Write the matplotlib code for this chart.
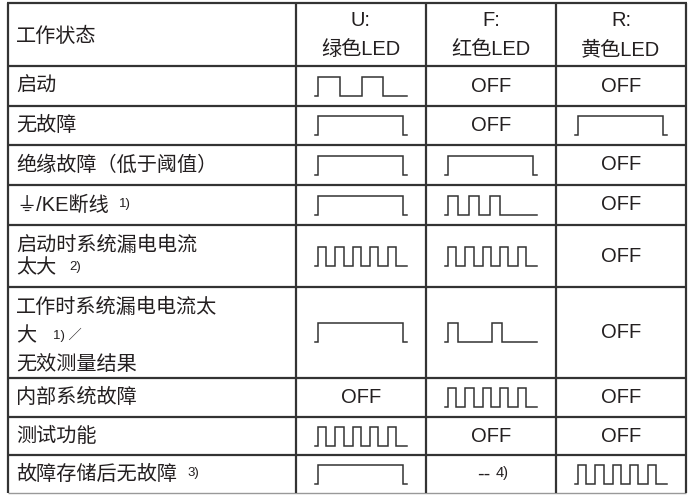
import matplotlib
matplotlib.use("Agg")
import matplotlib.pyplot as plt

plt.rcParams['font.family'] = ['Liberation Sans', 'Noto Sans CJK SC', 'DejaVu Sans']

# ---------------- data ----------------
header_state = "工作状态"
col_headers = [("U:", "绿色LED"), ("F:", "红色LED"), ("R:", "黄色LED")]

# each row label: list of lines, each line = (main text, superscript note)
row_labels = [
    [("启动", "")],
    [("无故障", "")],
    [("绝缘故障（低于阈值）", "")],
    [("⏚/KE断线", "1)")],
    [("启动时系统漏电电流", ""), ("太大", "2)")],
    [("工作时系统漏电电流太", ""), ("大", "1) ／"), ("无效测量结果", "")],
    [("内部系统故障", "")],
    [("测试功能", "")],
    [("故障存储后无故障", "3)")],
]

u_states = ["start", "on", "on", "on", "fast", "on", "OFF", "fast", "on"]
f_states = ["OFF", "OFF", "on", "triple", "fast", "double", "fast", "OFF", "-- 4)"]
r_states = ["OFF", "on", "OFF", "OFF", "OFF", "OFF", "OFF", "OFF", "fast"]

# waveform high intervals (normalized over waveform width)
patterns = {
    "start": [(0.03, 0.27), (0.51, 0.74)],
    "on": [(0.03, 0.96)],
    "fast": [(0.03, 0.12), (0.22, 0.31), (0.41, 0.50), (0.60, 0.69), (0.79, 0.88)],
    "triple": [(0.03, 0.14), (0.26, 0.37), (0.49, 0.60)],
    "double": [(0.03, 0.14), (0.51, 0.62)],
}

# ---------------- layout ----------------
W, H = 689, 495
x_lines = [8, 296, 426, 556, 686]
y_lines = [3, 66, 106, 145, 185, 225, 287, 378, 417, 455, 493]
line_y_offsets = {1: [0], 2: [-11, 12], 3: [-25, 3, 32]}
note_gaps = {"1)": 10, "2)": 13, "3)": 10, "1) ／": 17}

fig = plt.figure(figsize=(W / 100, H / 100), dpi=100)
ax = fig.add_axes([0, 0, 1, 1])
ax.set_xlim(0, W)
ax.set_ylim(H, 0)
ax.axis("off")

LC = "#333333"
TC = "#231f20"
FS = 14.5
SFS = 9.5

# grid lines
for i, y in enumerate(y_lines):
    if i == len(y_lines) - 1:
        ax.plot([x_lines[0], x_lines[-1]], [y, y], color="#999999", lw=1.0, solid_capstyle="butt")
    else:
        ax.plot([x_lines[0] - 1, x_lines[-1] + 1], [y, y], color=LC, lw=1.6, solid_capstyle="butt")
for x in x_lines:
    ax.plot([x, x], [y_lines[0], y_lines[-1]], color=LC, lw=1.6, solid_capstyle="butt")

fig.canvas.draw()
renderer = fig.canvas.get_renderer()
inv = ax.transData.inverted()


def text_with_note(x, y, main, note, ha="left"):
    t = ax.text(x, y, main, fontsize=FS, color=TC, ha=ha, va="center")
    if note:
        bb = t.get_window_extent(renderer=renderer)
        x1 = inv.transform((bb.x1, 0))[0]
        ax.text(x1 + note_gaps.get(note, 10), y - 1, note, fontsize=SFS, color=TC,
                ha="left", va="center")


# header
ax.text(16, (y_lines[0] + y_lines[1]) / 2 + 2, header_state, fontsize=FS, color=TC, ha="left", va="center")
for j, (a, b) in enumerate(col_headers):
    cx = (x_lines[j + 1] + x_lines[j + 2]) / 2
    ax.text(cx, 20, a, fontsize=FS, color=TC, ha="center", va="center")
    ax.text(cx, 50, b, fontsize=FS, color=TC, ha="center", va="center")

# rows
cols_states = [u_states, f_states, r_states]
for i, lines in enumerate(row_labels):
    y0, y1 = y_lines[i + 1], y_lines[i + 2]
    cy = (y0 + y1) / 2
    offs = line_y_offsets[len(lines)]
    for (main, note), off in zip(lines, offs):
        text_with_note(16, cy + off, main, note)
    for j, states in enumerate(cols_states):
        s = states[i]
        cl, cr = x_lines[j + 1], x_lines[j + 2]
        cx = (cl + cr) / 2
        if s in patterns:
            w = 92
            left = cx - w / 2
            top, bot = cy - 9.5, cy + 9.5
            xs = [left]
            ys = [bot]
            for a, b in patterns[s]:
                xs += [left + a * w, left + a * w, left + b * w, left + b * w]
                ys += [bot, top, top, bot]
            xs.append(left + w)
            ys.append(bot)
            ax.plot(xs, ys, color=LC, lw=1.1, solid_joinstyle="miter")
        elif s.startswith("--"):
            main, note = s.split(" ", 1)
            t = ax.text(cx - 7, cy, main, fontsize=FS, color=TC, ha="center", va="center")
            bb = t.get_window_extent(renderer=renderer)
            x1 = inv.transform((bb.x1, 0))[0]
            ax.text(x1 + 5, cy - 1, note, fontsize=SFS + 1, color=TC, ha="left", va="center")
        else:
            ax.text(cx, cy, s, fontsize=FS, color=TC, ha="center", va="center")

fig.savefig("out.png", dpi=100)
